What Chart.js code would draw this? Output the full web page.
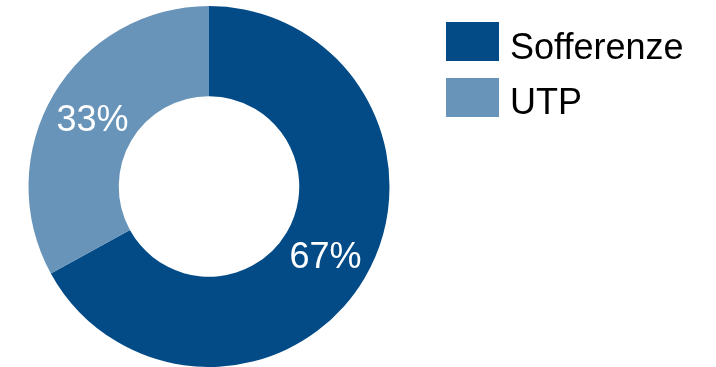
<!DOCTYPE html>
<html>
<head>
<meta charset="utf-8">
<script src="https://cdn.jsdelivr.net/npm/chart.js@4/dist/chart.umd.min.js"></script>
<style>
  html,body{margin:0;padding:0;background:#fff;}
  #wrap{width:716px;height:367px;position:relative;overflow:hidden;}
</style>
</head>
<body>
<div id="wrap"><canvas id="donut" width="716" height="367"></canvas></div>
<script>
// ====== dati ======
const labels = ["Sofferenze", "UTP"];
const values = [67, 33];
const colors = ["#024B87", "#6894BA"];

const FONT = '"Liberation Sans", Arial, sans-serif';

// etichette percentuali sulle fette
const sliceLabels = {
  id: 'sliceLabels',
  afterDatasetsDraw(chart) {
    const ctx = chart.ctx;
    const meta = chart.getDatasetMeta(0);
    const total = values.reduce((a, b) => a + b, 0);
    ctx.save();
    ctx.font = `36px ${FONT}`;
    ctx.fillStyle = '#fff';
    ctx.textAlign = 'center';
    ctx.textBaseline = 'alphabetic';
    meta.data.forEach((arc, i) => {
      const p = arc.tooltipPosition();
      const pct = Math.round(values[i] / total * 100) + '%';
      ctx.fillText(pct, p.x, p.y + 13);
    });
    ctx.restore();
  }
};

// legenda a destra
const sideLegend = {
  id: 'sideLegend',
  afterDraw(chart) {
    const ctx = chart.ctx;
    const x0 = 446, y0 = 22, boxW = 53, boxH = 39, pitch = 56;
    ctx.save();
    ctx.font = `36px ${FONT}`;
    ctx.textAlign = 'left';
    ctx.textBaseline = 'alphabetic';
    chart.data.labels.forEach((lab, i) => {
      const y = y0 + i * pitch;
      ctx.fillStyle = chart.data.datasets[0].backgroundColor[i];
      ctx.fillRect(x0, y, boxW, boxH);
      ctx.fillStyle = '#000';
      ctx.fillText(lab, 510, 59 + i * 55);
    });
    ctx.restore();
  }
};

new Chart(document.getElementById('donut'), {
  type: 'doughnut',
  data: {
    labels: labels,
    datasets: [{
      data: values,
      backgroundColor: colors,
      borderWidth: 0
    }]
  },
  options: {
    responsive: false,
    animation: false,
    devicePixelRatio: 1,
    cutout: '50%',
    layout: { padding: { left: 28, top: 6, right: 326, bottom: 0 } },
    plugins: {
      legend: { display: false },
      tooltip: { enabled: false }
    }
  },
  plugins: [sliceLabels, sideLegend]
});
</script>
</body>
</html>
